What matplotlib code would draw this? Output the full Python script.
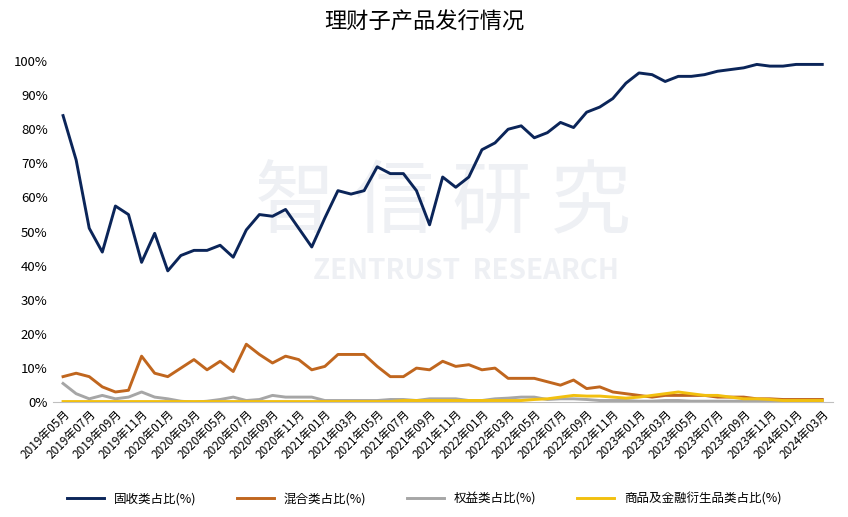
import matplotlib
matplotlib.use("Agg")
import matplotlib.pyplot as plt
from matplotlib import font_manager as fm

for f in fm.findSystemFonts():
    if "cjk" in f.lower():
        try:
            fm.fontManager.addfont(f)
        except Exception:
            pass
names = sorted({f.name for f in fm.fontManager.ttflist if "CJK" in f.name})
cjk = "Noto Sans CJK SC" if "Noto Sans CJK SC" in names else (names[0] if names else "DejaVu Sans")
plt.rcParams["font.family"] = [cjk, "DejaVu Sans"]

months = []
y, m = 2019, 5
for _ in range(59):
    months.append(f"{y}年{m:02d}月")
    m += 1
    if m > 12:
        m = 1; y += 1

fixed = [84, 71, 51, 44, 57.5, 55, 41, 49.5, 38.5, 43, 44.5, 44.5, 46, 42.5, 50.5, 55, 54.5, 56.5, 51, 45.5,
         54, 62, 61, 62, 69, 67, 67, 62, 52, 66, 63, 66, 74, 76, 80, 81, 77.5, 79, 82, 80.5,
         85, 86.5, 89, 93.5, 96.5, 96, 94, 95.5, 95.5, 96, 97, 97.5, 98, 99, 98.5, 98.5, 99, 99, 99]
mixed = [7.5, 8.5, 7.5, 4.5, 3, 3.5, 13.5, 8.5, 7.5, 10, 12.5, 9.5, 12, 9, 17, 14, 11.5, 13.5, 12.5, 9.5,
         10.5, 14, 14, 14, 10.5, 7.5, 7.5, 10, 9.5, 12, 10.5, 11, 9.5, 10, 7, 7, 7, 6, 5, 6.5,
         4, 4.5, 3, 2.5, 2, 1.5, 2, 2, 2, 2, 1.5, 1.5, 1.5, 1, 1, 0.8, 0.8, 0.8, 0.8]
equity = [5.5, 2.5, 1, 2, 1, 1.5, 3, 1.5, 1, 0.3, 0, 0.3, 0.8, 1.5, 0.5, 0.8, 2, 1.5, 1.5, 1.5,
          0.5, 0.5, 0.5, 0.5, 0.5, 0.8, 0.8, 0.5, 1, 1, 1, 0.5, 0.5, 1, 1.2, 1.5, 1.5, 0.8, 1, 1,
          0.8, 0.5, 0.5, 0.5, 0.3, 0.3, 0.5, 0.5, 0.3, 0.3, 0.3, 0.3, 0.3, 0.3, 0.3, 0.3, 0.3, 0.3, 0.3]
commodity = [0.2]*26 + [0.5]*10 + [0.8, 1, 1.5, 2, 1.8, 1.8, 1.5, 1.2, 1.5, 2, 2.5, 3, 2.5, 2, 2, 1.5,
             1, 1, 0.8, 0.5, 0.5, 0.5, 0.5]

series = [("固收类占比(%)", fixed, "#0b2559"),
          ("混合类占比(%)", mixed, "#c0661e"),
          ("权益类占比(%)", equity, "#a6a6a6"),
          ("商品及金融衍生品类占比(%)", commodity, "#f2c00f")]

fig = plt.figure(figsize=(8.48, 5.17), dpi=100)
ax = fig.add_axes([0.062, 0.222, 0.92, 0.66])
x = list(range(len(months)))
for name, vals, c in series:
    ax.plot(x, vals, color=c, lw=2.1, label=name, zorder=3)

ax.text(0.5, 0.58, "智 信 研 究", transform=ax.transAxes, fontsize=58, color="#eef0f4",
        ha="center", va="center", zorder=0)
ax.text(0.53, 0.385, "ZENTRUST  RESEARCH", transform=ax.transAxes, fontsize=20, color="#eef0f4",
        ha="center", va="center", fontweight="bold", zorder=0)

ax.set_ylim(0, 100)
ax.set_yticks(range(0, 101, 10))
ax.set_yticklabels([f"{v}%" for v in range(0, 101, 10)], fontsize=9.5)
ax.set_xlim(-0.8, 58.8)
ax.set_xticks(x[::2])
ax.set_xticklabels(months[::2], rotation=45, ha="right", rotation_mode="anchor", fontsize=8.5)
for s in ["top", "right", "left"]:
    ax.spines[s].set_visible(False)
ax.spines["bottom"].set_color("#bfbfbf")
ax.tick_params(axis="y", length=0)
ax.tick_params(axis="x", length=0, pad=4)

fig.suptitle("理财子产品发行情况", fontsize=16, y=0.98)
fig.legend(loc="lower center", ncol=4, frameon=False, fontsize=9, bbox_to_anchor=(0.5, 0.0),
           handlelength=3, columnspacing=3.2)
fig.savefig("out.png", dpi=100)
